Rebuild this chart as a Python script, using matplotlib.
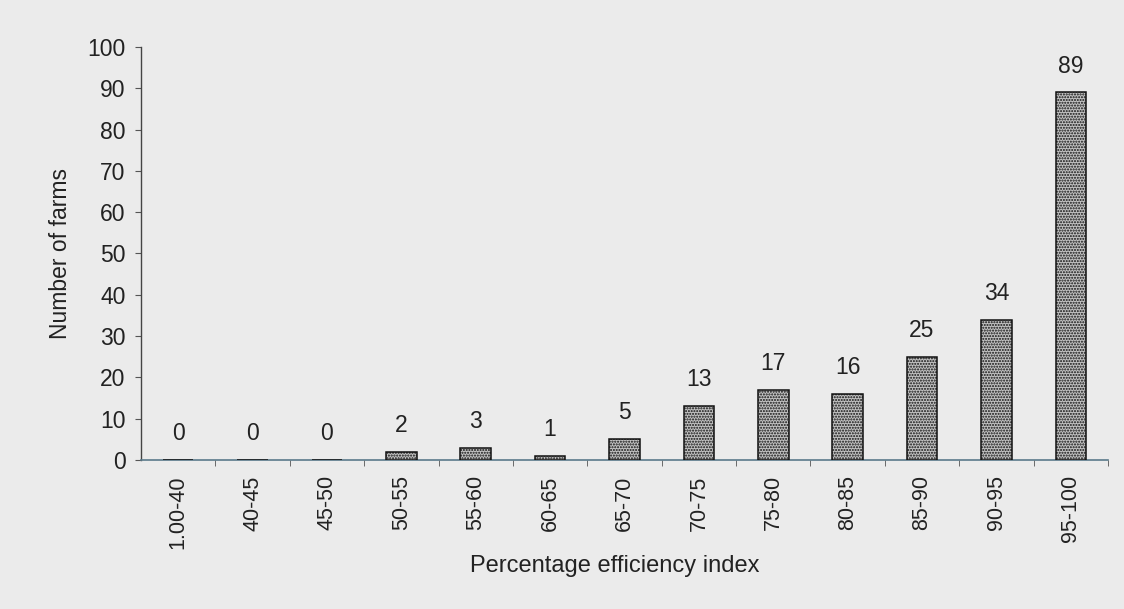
import matplotlib
matplotlib.use("Agg")
import matplotlib.pyplot as plt
import numpy as np

categories = ["1.00-40", "40-45", "45-50", "50-55", "55-60", "60-65", "65-70",
              "70-75", "75-80", "80-85", "85-90", "90-95", "95-100"]
farms = [0, 0, 0, 2, 3, 1, 5, 13, 17, 16, 25, 34, 89]
yticks = list(range(0, 101, 10))

plt.rcParams['font.family'] = ['Liberation Sans', 'DejaVu Sans']
plt.rcParams['hatch.color'] = '#1e1e1e'
plt.rcParams['hatch.linewidth'] = 1.0

FS = 16.5
fig = plt.figure(figsize=(11.24, 6.09), dpi=100)
bg = '#ebebeb'
fig.patch.set_facecolor(bg)
ax = fig.add_axes([0.1254, 0.2447, 0.8604, 0.6781])
ax.set_facecolor(bg)

x = np.arange(len(categories))
ax.bar(x, farms, width=0.41, color='#c2c2c2', edgecolor='#111111',
       linewidth=1.1, hatch='......', zorder=3)
for xi, v in zip(x, farms):
    ax.text(xi, v + 3.6, str(v), ha='center', va='bottom', fontsize=FS, color='#222222')

ax.set_xlim(-0.5, len(categories) - 0.5)
ax.set_ylim(0, 100)
ax.set_yticks(yticks)
ax.set_yticklabels([str(t) for t in yticks], fontsize=FS, color='#222222')
ax.set_xticks(x)
ax.set_xticklabels(categories, rotation=90, fontsize=15.5, color='#222222')
ax.tick_params(axis='x', length=0, pad=11)
ax.set_xticks(np.arange(len(categories)) + 0.5, minor=True)
ax.tick_params(axis='x', which='minor', length=4, direction='out', color='#555555')
ax.tick_params(axis='y', length=4, direction='out', color='#555555', pad=7)

for s in ['top', 'right']:
    ax.spines[s].set_visible(False)
ax.spines['left'].set_color('#444444')
ax.spines['bottom'].set_color('#5a7a8a')
ax.spines['left'].set_linewidth(1.0)
ax.spines['bottom'].set_linewidth(1.2)

ax.set_ylabel("Number of farms", fontsize=FS, color='#222222', va='center')
ax.yaxis.set_label_coords(-0.083, 0.5)
ax.set_xlabel("Percentage efficiency index", fontsize=17, color='#222222', va='center')
ax.xaxis.set_label_coords(0.49, -0.257)

fig.savefig("out.png", dpi=100, facecolor=fig.get_facecolor())
